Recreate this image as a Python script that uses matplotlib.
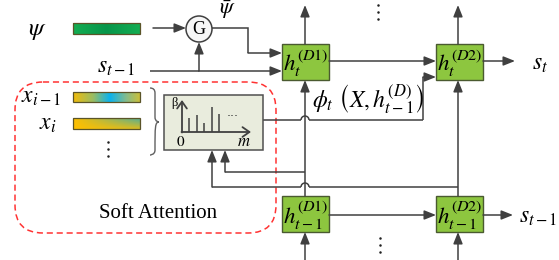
import numpy as np
import matplotlib
matplotlib.use('Agg')
import matplotlib.pyplot as plt
from matplotlib.patches import Rectangle, Circle, FancyBboxPatch, Arc, PathPatch
from matplotlib.path import Path
from matplotlib.colors import to_rgb

plt.rcParams['mathtext.fontset'] = 'stix'

# ---- content ----
attention_weights = [14, 17, 9, 25, 18]          # bar heights in the mini attention plot
input_labels = [r'$x_{i-1}$', r'$x_i$']
decoder_top_labels = [r'$h_t^{(D1)}$', r'$h_t^{(D2)}$']
decoder_bot_labels = [r'$h_{t-1}^{(D1)}$', r'$h_{t-1}^{(D2)}$']
context_label = r'$\phi_t\ \left(X, h_{t-1}^{(D)}\right)$'
title_text = 'Soft Attention'

C = '#404040'
GREEN_BOX = '#8dc63f'
W, H = 559, 260

fig = plt.figure(figsize=(W / 100, H / 100), dpi=100)
ax = fig.add_axes([0, 0, 1, 1])
ax.set_axis_off()


def line(xs, ys, lw=1.1):
    ax.plot(xs, ys, color=C, lw=lw, solid_capstyle='butt', solid_joinstyle='miter')


def arrow(x0, y0, x1, y1, style='-|>,head_length=0.7,head_width=0.28', lw=1.1, ms=10):
    ax.annotate('', xy=(x1, y1), xytext=(x0, y0),
                arrowprops=dict(arrowstyle=style, color=C, lw=lw,
                                shrinkA=0, shrinkB=0, mutation_scale=ms))


def hop_line(xa, xb, y, xh, r=4):
    lo, hi = min(xa, xb), max(xa, xb)
    line([lo, xh - r], [y, y])
    line([xh + r, hi], [y, y])
    ax.add_patch(Arc((xh, y), 2 * r, 2 * r, theta1=180, theta2=360, color=C, lw=1.1))


def gradient_bar(x0, y0, x1, y1, img):
    ax.imshow(img, extent=(x0, x1, y1, y0), aspect='auto', interpolation='bilinear', zorder=2)
    ax.add_patch(Rectangle((x0, y0), x1 - x0, y1 - y0, fill=False, ec='#5a5428', lw=0.9, zorder=3))


def hgrad(stops, n=200, rows=4):
    pos = np.array([s[0] for s in stops])
    cols = np.array([to_rgb(s[1]) for s in stops])
    u = np.linspace(0, 1, n)
    row = np.stack([np.interp(u, pos, cols[:, k]) for k in range(3)], axis=-1)
    return np.repeat(row[None, :, :], rows, axis=0)


# ---- psi bar and G gate ----
ax.text(37, 30, r'$\psi$', fontsize=18, ha='center', va='center')
gradient_bar(73, 23, 140, 34, hgrad([(0, '#14ad52'), (0.5, '#07964a'), (1, '#14ad52')]))
arrow(153, 28, 186, 28)
ax.add_patch(Circle((199, 29), 13, fc='#f7f7f7', ec=C, lw=1.1, zorder=3))
ax.text(199, 30, 'G', fontsize=13, family='Liberation Serif', ha='center', va='center', zorder=4)
ax.text(227, 10, r'$\bar{\psi}$', fontsize=16, ha='center', va='center')
line([212, 248, 248], [28, 28, 53])
arrow(248, 53, 282, 53)

ax.text(116, 66, r'$s_{t-1}$', fontsize=17, ha='center', va='center')
line([150, 199], [71, 71])
arrow(199, 71, 282, 71)
arrow(199, 71, 199, 42)

# ---- decoder boxes ----
box_x = [282, 436]
box_w = 47
top_y, bot_y, box_h = 44, 196, 36
for i in range(2):
    for yy, lab in ((top_y, decoder_top_labels[i]), (bot_y, decoder_bot_labels[i])):
        ax.add_patch(Rectangle((box_x[i], yy), box_w, box_h, fc=GREEN_BOX, ec='#4a5a30', lw=1.0, zorder=3))
        ax.text(box_x[i] + box_w / 2 + 0.5, yy + box_h / 2 + 1, lab, fontsize=16.5,
                ha='center', va='center', zorder=4)

cx = [305, 458]
for x in cx:
    arrow(x, top_y, x, 5)
    arrow(x, bot_y, x, top_y + box_h)
    arrow(x, 260, x, bot_y + box_h)

arrow(329, 61, 436, 61)
arrow(483, 61, 515, 61)
ax.text(540, 63, r'$s_t$', fontsize=17, ha='center', va='center')
arrow(329, 215, 436, 215)
arrow(483, 215, 513, 215)
ax.text(538, 216, r'$s_{t-1}$', fontsize=17, ha='center', va='center')

# vertical ellipses
for (x, y0) in ((378, 5), (380, 238), (108, 142)):
    ax.plot([x] * 3, [y0, y0 + 7, y0 + 14], 'o', color='#202020', ms=1.8, mec='none')

# ---- context vector path ----
hop_line(263, 423, 120, 305)
line([423, 423], [120, 77])
arrow(423, 77, 436, 77)
ax.text(368, 99, context_label, fontsize=17, ha='center', va='center')

# ---- feedback to attention ----
line([305, 225], [172, 172])
arrow(225, 172, 225, 150)
hop_line(212, 458, 187, 305)
arrow(212, 187, 212, 150)

# ---- attention module ----
ax.add_patch(FancyBboxPatch((15, 82), 261, 151, boxstyle='round,pad=0,rounding_size=28',
                            fill=False, ec='#ff3333', lw=1.1, ls=(0, (4, 2.5)), zorder=1))
ax.text(158, 213, title_text, fontsize=15, family='Liberation Serif', ha='center', va='center')

ax.text(41, 96, input_labels[0], fontsize=17, ha='center', va='center')
ax.text(48, 123, input_labels[1], fontsize=17, ha='center', va='center')
gradient_bar(73, 92, 140, 102, hgrad([(0, '#f2bb0a'), (0.3, '#9abd62'), (0.55, '#0ab2ee'),
                                       (0.8, '#86bc8a'), (1, '#cabf3a')]))
# diagonal gradient for x_i
u = np.linspace(0, 1, 200)[None, :]
v = np.linspace(1, 0, 20)[:, None]          # 1 at top row
t = np.clip(u * (0.25 + 0.85 * v), 0, 1)
c0, c1 = np.array(to_rgb('#ffc000')), np.array(to_rgb('#62b08a'))
img = c0[None, None, :] * (1 - t[..., None]) + c1[None, None, :] * t[..., None]
gradient_bar(73, 118, 140, 129, img)

# curly brace
bx, by0, by1, bt = 150, 88, 155, 122
verts = [(bx, by0), (bx + 5, by0), (bx + 5, by0 + 5),
         (bx + 5, bt - 5),
         (bx + 5, bt), (bx + 9, bt), (bx + 9, bt),
         (bx + 9, bt), (bx + 5, bt), (bx + 5, bt + 5),
         (bx + 5, by1 - 5),
         (bx + 5, by1), (bx, by1), (bx, by1)]
codes = [Path.MOVETO, Path.CURVE3, Path.CURVE3, Path.LINETO,
         Path.CURVE4, Path.CURVE4, Path.CURVE4,
         Path.LINETO, Path.CURVE4, Path.CURVE4,
         Path.LINETO, Path.CURVE4, Path.CURVE4, Path.CURVE4]
ax.add_patch(PathPatch(Path(verts, codes), fill=False, ec='#606060', lw=1.0))

ax.add_patch(Rectangle((164, 95), 99, 55, fc='#e9ecdd', ec='#505050', lw=1.1, zorder=2))
x_axis_y, y_axis_x = 132, 182
arrow(y_axis_x, x_axis_y + 0.5, y_axis_x, 100, style='->,head_length=0.5,head_width=0.35', lw=1.3)
arrow(y_axis_x - 0.5, x_axis_y, 251, x_axis_y, style='->,head_length=0.5,head_width=0.35', lw=1.3)
for k, w in enumerate(attention_weights):
    xb = 189 + k * 7.5
    line([xb, xb], [x_axis_y, x_axis_y - w], lw=1.1)
ax.text(233, 113, '...', fontsize=9, ha='center', va='center', color='#303030')
ax.text(174, 103, 'β', fontsize=9, family='Liberation Serif', ha='center', va='center')
ax.text(181, 141, r'$0$', fontsize=11, ha='center', va='center')
ax.text(244, 141, r'$m$', fontsize=12, ha='center', va='center')

ax.set_xlim(0, W)
ax.set_ylim(H, 0)
fig.savefig('out.png', dpi=100)
